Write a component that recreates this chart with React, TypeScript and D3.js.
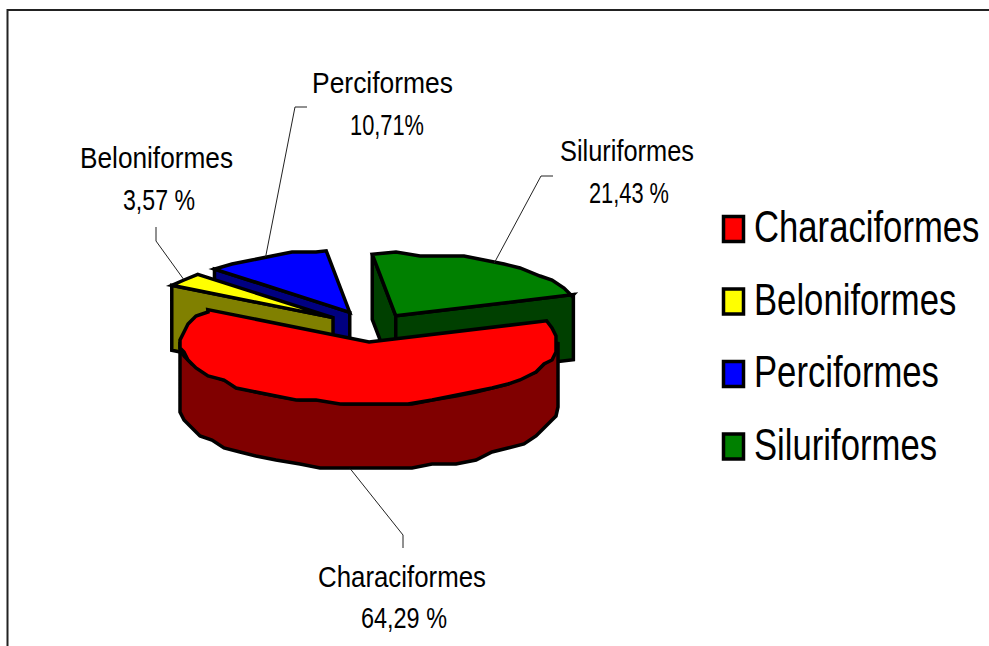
import * as d3 from 'd3';

// Values
const orders = ['Characiformes', 'Beloniformes', 'Perciformes', 'Siluriformes'];
const percents = [64.29, 3.57, 10.71, 21.43];
const percentLabels = ['64,29 %', '3,57 %', '10,71%', '21,43 %'];
const topColors = ['#ff0000', '#ffff00', '#0000ff', '#008000'];
const wallColors = ['#800000', '#808000', '#000080', '#004000'];

// How far each slice is pulled out of the pie
const explodes = [0.228, 0.27, 0.28, 0.228];

// Label layout: centre x, baseline and drawn width of name and value
const labelX = [402, 156.5, 382.5, 627];
const labelNameY = [587, 168, 93, 161];
const labelNameW = [168, 153, 141, 134];
const labelValueX = [404, 159, 387, 629];
const labelValueY = [628, 210, 135, 203];
const labelValueW = [86, 72, 74, 80];
// Leader lines: elbow and end, the start comes from the slice rim
const leaderElbow = [[403, 535], [156, 241], [295, 107], [541, 176]];
const leaderEnd = [[403, 548], [156, 227], [307, 107], [553, 176]];

const width = 989;
const height = 646;
const cx = 373.3;
const cy = 327.9;
const rx = 189;
const ry = 62;
const depth = 65;
const toRad = Math.PI / 180;

const pie = d3
  .pie<number>()
  .sort(null)
  .startAngle(70 * toRad)
  .endAngle(430 * toRad);

const line = d3.line<number[]>();

// angle is clockwise from north, like d3.pie
const rim = (o: number[], a: number, dz = 0) => [
  o[0] + rx * Math.sin(a),
  o[1] - ry * Math.cos(a) + dz,
];

const sample = (a0: number, a1: number) => {
  const step = 7 * toRad;
  return [...d3.range(a0, a1, step), a1];
};

// The rim of the original is a coarse polygon, snap the inner points to a grid
const snap = (p: number[]) => [Math.round(p[0] / 4) * 4, Math.round(p[1] / 4) * 4];
const arcPts = (o: number[], a0: number, a1: number, dz = 0) => {
  const angles = sample(a0, a1);
  return angles.map((a, k) => {
    const p = rim(o, a, dz);
    return k === 0 || k === angles.length - 1 ? p : snap(p);
  });
};

const slices = pie(percents).map((d, i) => {
  const mid = (d.startAngle + d.endAngle) / 2;
  const origin = [cx + rx * Math.sin(mid) * explodes[i], cy - ry * Math.cos(mid) * explodes[i]];
  return { i, a0: d.startAngle, a1: d.endAngle, mid, origin };
});

const drawOrder = [...slices].sort((a, b) => d3.ascending(a.origin[1], b.origin[1]));

const rowY = d3.scaleLinear().domain([0, 3]).range([229, 446.5]);

const stroke = { stroke: '#000', strokeWidth: 3.5, strokeLinejoin: 'miter' as const, strokeMiterlimit: 4 };

function Slice({ s }: { s: (typeof slices)[number] }) {
  const { i, a0, a1, origin } = s;
  const topPts = [origin, ...arcPts(origin, a0, a1)];
  const radial = (a: number) => {
    const p = rim(origin, a);
    return [origin, p, [p[0], p[1] + depth], [origin[0], origin[1] + depth]];
  };
  // front facing part of the outer wall
  const f0 = Math.max(a0, 90 * toRad);
  const f1 = Math.min(a1, 270 * toRad);
  const outer =
    f1 > f0 ? [...arcPts(origin, f0, f1), ...arcPts(origin, f0, f1, depth).reverse()] : null;
  return (
    <g>
      {Math.sin(a0) < 0 && <path d={line(radial(a0))! + 'Z'} fill={wallColors[i]} {...stroke} />}
      {Math.sin(a1) > 0 && <path d={line(radial(a1))! + 'Z'} fill={wallColors[i]} {...stroke} />}
      {outer && <path d={line(outer)! + 'Z'} fill={wallColors[i]} {...stroke} />}
      <path d={line(topPts)! + 'Z'} fill={topColors[i]} {...stroke} />
    </g>
  );
}

export default function App() {
  return (
    <svg
      width={width}
      height={height}
      viewBox={`0 0 ${width} ${height}`}
      style={{ position: 'fixed', left: 0, top: 0, background: '#fff' }}
      fontFamily="'Liberation Sans', Arial, sans-serif"
    >
      {/* Frame runs off the right and bottom of the page */}
      <rect x={7.5} y={10} width={width} height={height} fill="#fff" stroke="#222" strokeWidth={2} />

      {drawOrder.map((s) => (
        <Slice key={s.i} s={s} />
      ))}

      {slices.map((s) => {
        const start = rim(s.origin, s.mid, s.mid > 90 * toRad && s.mid < 270 * toRad ? depth : 0);
        return (
          <path
            key={s.i}
            d={line([start, leaderElbow[s.i], leaderEnd[s.i]])!}
            fill="none"
            stroke="#222"
            strokeWidth={1}
          />
        );
      })}

      {orders.map((name, i) => (
        <g key={name} fill="#000" fontSize={29} textAnchor="middle">
          <text x={labelX[i]} y={labelNameY[i]} textLength={labelNameW[i]} lengthAdjust="spacingAndGlyphs">
            {name}
          </text>
          <text x={labelValueX[i]} y={labelValueY[i]} textLength={labelValueW[i]} lengthAdjust="spacingAndGlyphs">
            {percentLabels[i]}
          </text>
        </g>
      ))}

      {orders.map((name, i) => (
        <g key={name}>
          <rect x={723.5} y={rowY(i) - 12.5} width={20} height={25} fill={topColors[i]} {...stroke} />
          <text transform={`translate(754,${rowY(i) + 13}) scale(0.788,1)`} fontSize={44} fill="#000">
            {name}
          </text>
        </g>
      ))}
    </svg>
  );
}
